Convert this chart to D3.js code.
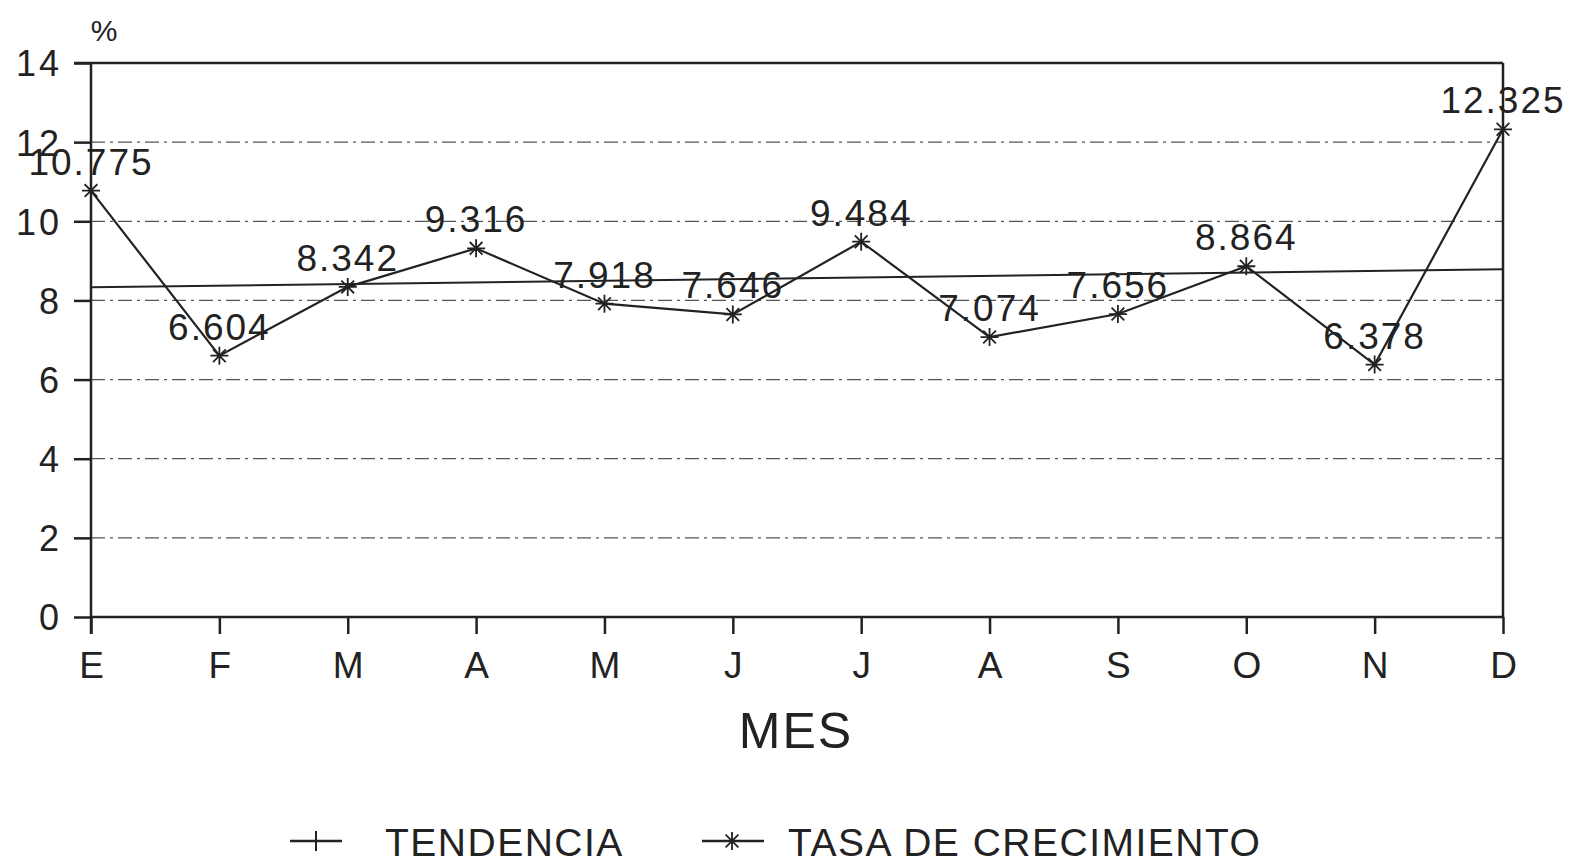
<!DOCTYPE html>
<html lang="es">
<head>
<meta charset="UTF-8">
<title>Tasa de crecimiento por mes</title>
<script src="https://d3js.org/d3.v7.min.js"></script>
<style>
  body { margin: 0; background: #fff; }
  text { font-family: "Liberation Sans", Arial, sans-serif; fill: #222; }
</style>
</head>
<body>
<svg width="1573" height="863"></svg>
<script>
  // data
  const months = ["E", "F", "M", "A", "M", "J", "J", "A", "S", "O", "N", "D"];
  const tasa = [10.775, 6.604, 8.342, 9.316, 7.918, 7.646, 9.484, 7.074, 7.656, 8.864, 6.378, 12.325];
  // trend line endpoints (E and D)
  const tendenciaIdx = [0, 11];
  const tendencia = [8.33, 8.79];
  const yTicks = [0, 2, 4, 6, 8, 10, 12, 14];

  const margin = { top: 63, right: 70, bottom: 246, left: 91 },
    width = 1573 - margin.left - margin.right,
    height = 863 - margin.top - margin.bottom;

  const svg = d3.select("svg").append("g")
    .attr("transform", `translate(${margin.left},${margin.top})`);

  const x = d3.scalePoint().domain(d3.range(months.length)).range([0, width]);
  const y = d3.scaleLinear().domain([0, 14]).range([height, 0]);

  // gridlines
  svg.append("g").selectAll("line")
    .data(yTicks.filter(d => d > 0 && d < 14))
    .join("line")
    .attr("x1", 0).attr("x2", width)
    .attr("y1", d => y(d)).attr("y2", d => y(d))
    .attr("stroke", "#555")
    .attr("stroke-width", 1.2)
    .attr("stroke-dasharray", "14,5,3,5");

  // frame top and right
  svg.append("line").attr("x1", -17).attr("x2", width).attr("y1", y(14)).attr("y2", y(14))
    .attr("stroke", "#222").attr("stroke-width", 2.5);
  svg.append("line").attr("x1", width).attr("x2", width).attr("y1", y(14)).attr("y2", height)
    .attr("stroke", "#222").attr("stroke-width", 2.5);

  // y axis
  const yAxis = svg.append("g")
    .call(d3.axisLeft(y).tickValues(yTicks).tickSize(17).tickPadding(12).tickFormat(d3.format("d")));
  yAxis.select(".domain").attr("stroke", "#222").attr("stroke-width", 2.5).attr("d", `M0,${y(14)}V${height + 17}`);
  yAxis.selectAll(".tick line").attr("stroke", "#222").attr("stroke-width", 2.5);
  yAxis.selectAll(".tick text").attr("font-size", 36).attr("letter-spacing", 3)
    .attr("font-family", "Liberation Sans, Arial, sans-serif").attr("fill", "#222").attr("dy", "0.36em");

  // x axis
  const xAxis = svg.append("g").attr("transform", `translate(0,${height})`)
    .call(d3.axisBottom(x).tickSize(17).tickPadding(18).tickFormat(i => months[i]));
  xAxis.select(".domain").attr("stroke", "#222").attr("stroke-width", 2.5).attr("d", `M0,0H${width}`);
  xAxis.selectAll(".tick line").attr("stroke", "#222").attr("stroke-width", 2.5);
  xAxis.selectAll(".tick text").attr("font-size", 37)
    .attr("font-family", "Liberation Sans, Arial, sans-serif").attr("fill", "#222");

  // trend line
  svg.append("path")
    .datum(tendenciaIdx.map((i, k) => [i, tendencia[k]]))
    .attr("fill", "none").attr("stroke", "#222").attr("stroke-width", 2)
    .attr("d", d3.line().x(d => x(d[0])).y(d => y(d[1])));

  // growth rate line
  const pts = tasa.map((v, i) => [i, v]);
  svg.append("path")
    .datum(pts)
    .attr("fill", "none").attr("stroke", "#222").attr("stroke-width", 2.2)
    .attr("d", d3.line().x(d => x(d[0])).y(d => y(d[1])));

  function asterisk(r) {
    const p = d3.path();
    [0, 45, 90, 135].forEach(a => {
      const t = a * Math.PI / 180;
      p.moveTo(-r * Math.cos(t), -r * Math.sin(t));
      p.lineTo(r * Math.cos(t), r * Math.sin(t));
    });
    return p.toString();
  }

  svg.append("g").selectAll("path")
    .data(pts)
    .join("path")
    .attr("transform", d => `translate(${x(d[0])},${y(d[1])})`)
    .attr("d", asterisk(9))
    .attr("stroke", "#222").attr("stroke-width", 1.8).attr("fill", "none");

  svg.append("g").selectAll("text")
    .data(pts)
    .join("text")
    .attr("x", d => x(d[0]))
    .attr("y", d => y(d[1]) - 16)
    .attr("text-anchor", "middle")
    .attr("font-size", 37)
    .attr("letter-spacing", 2)
    .text(d => d3.format(".3f")(d[1]));

  // titles
  svg.append("text").attr("x", 13).attr("y", -22).attr("text-anchor", "middle")
    .attr("font-size", 30).text("%");
  svg.append("text").attr("x", 705).attr("y", height + 131).attr("text-anchor", "middle")
    .attr("font-size", 50).attr("letter-spacing", 2).text("MES");

  // legend
  const leg = d3.select("svg").append("g").attr("transform", "translate(0,841)");
  leg.append("line").attr("x1", 290).attr("x2", 342).attr("y1", 0).attr("y2", 0)
    .attr("stroke", "#222").attr("stroke-width", 2.5);
  leg.append("line").attr("x1", 316).attr("x2", 316).attr("y1", -10).attr("y2", 10)
    .attr("stroke", "#222").attr("stroke-width", 2);
  leg.append("text").attr("x", 385).attr("y", 15).attr("font-size", 39)
    .attr("letter-spacing", 1.5).text("TENDENCIA");

  leg.append("line").attr("x1", 702).attr("x2", 764).attr("y1", 0).attr("y2", 0)
    .attr("stroke", "#222").attr("stroke-width", 2.5);
  leg.append("path").attr("transform", "translate(732,0)").attr("d", asterisk(9))
    .attr("stroke", "#222").attr("stroke-width", 1.8).attr("fill", "none");
  leg.append("text").attr("x", 788).attr("y", 15).attr("font-size", 39)
    .attr("letter-spacing", 1.5).text("TASA DE CRECIMIENTO");
</script>
</body>
</html>
